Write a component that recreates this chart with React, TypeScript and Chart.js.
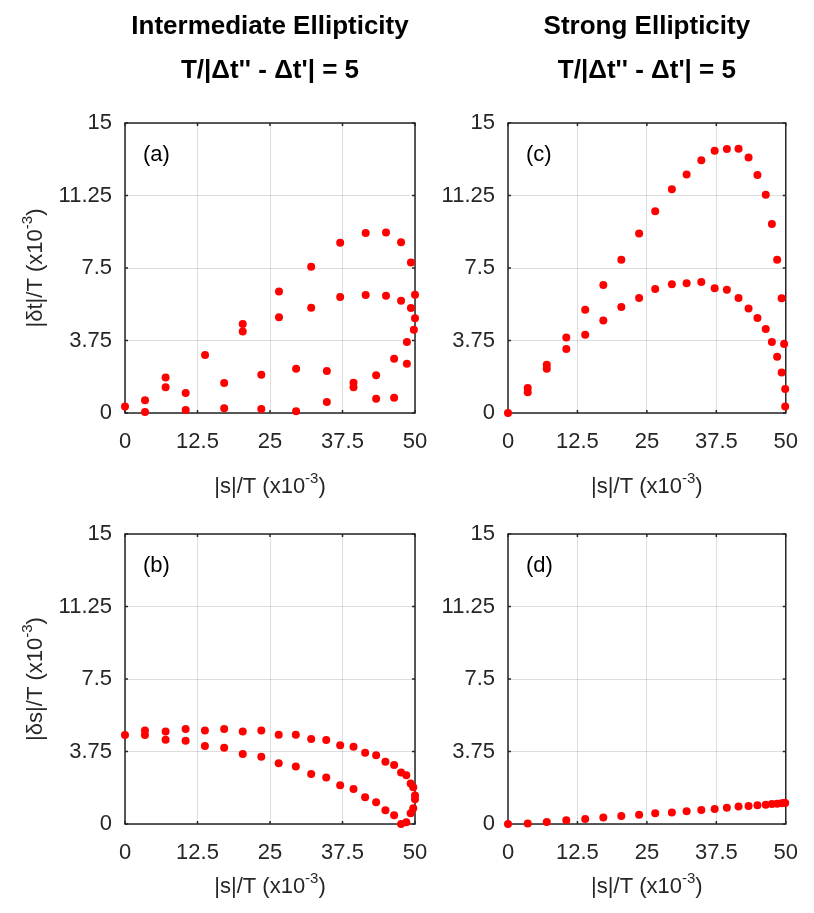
import React, { useEffect, useRef } from 'react';
import { Chart, registerables } from 'chart.js';
Chart.register(...registerables);

const W = 814;
const H = 913;
const FONT = "'Liberation Sans', Arial, Helvetica, sans-serif";
const TEXT = '#262626';

const xTicks = [0, 12.5, 25, 37.5, 50];
const yTicks = [0, 3.75, 7.5, 11.25, 15];

// Panel (a): intermediate ellipticity, |δt|/T
const aX = [0, 3.45, 3.45, 7.0, 7.0, 10.46, 10.46, 13.8, 17.1, 17.1, 20.3, 20.3, 23.5, 23.5, 26.55, 26.55, 29.5, 29.5, 32.1, 32.1, 34.8, 34.8, 37.1, 37.1, 39.4, 39.4, 41.5, 41.5, 43.3, 43.3, 45.0, 45.0, 46.4, 46.4, 47.6, 47.6, 48.6, 48.6, 49.3, 49.3, 49.8, 50, 50];
const aY = [0.34, 0.66, 0.05, 1.84, 1.33, 1.03, 0.16, 3.0, 1.55, 0.24, 4.6, 4.22, 1.98, 0.21, 6.28, 4.95, 2.29, 0.09, 7.57, 5.45, 2.17, 0.57, 8.81, 6.0, 1.57, 1.33, 9.31, 6.1, 1.95, 0.74, 9.34, 6.07, 2.81, 0.79, 8.83, 5.81, 3.67, 2.55, 7.78, 5.43, 4.31, 6.12, 4.9];

// Panel (b): intermediate ellipticity, |δs|/T
const bX = [0, 3.44, 3.44, 7.0, 7.0, 10.45, 10.45, 13.78, 13.78, 17.1, 17.1, 20.3, 20.3, 23.5, 23.5, 26.5, 26.5, 29.45, 29.45, 32.1, 32.1, 34.7, 34.7, 37.1, 37.1, 39.4, 39.4, 41.4, 41.4, 43.3, 43.3, 44.9, 44.9, 46.4, 46.4, 47.6, 47.6, 48.5, 48.5, 49.25, 49.25, 49.7, 49.7, 50, 50];
const bY = [4.6, 4.83, 4.6, 4.78, 4.36, 4.91, 4.31, 4.83, 4.03, 4.91, 3.95, 4.78, 3.62, 4.83, 3.48, 4.62, 3.14, 4.62, 2.97, 4.4, 2.59, 4.34, 2.41, 4.07, 2.0, 4.0, 1.81, 3.69, 1.38, 3.55, 1.12, 3.22, 0.71, 3.05, 0.45, 2.67, 0.0, 2.52, 0.09, 2.1, 0.55, 1.9, 0.81, 1.48, 1.28];

// Panel (c): strong ellipticity, |δt|/T
const cX = [0, 3.55, 3.55, 6.98, 6.98, 10.5, 10.5, 13.9, 13.9, 17.16, 17.16, 20.4, 20.4, 23.6, 23.6, 26.5, 26.5, 29.5, 29.5, 32.15, 32.15, 34.8, 34.8, 37.2, 37.2, 39.4, 39.4, 41.5, 41.5, 43.3, 43.3, 44.9, 44.9, 46.4, 46.4, 47.5, 47.5, 48.45, 48.45, 49.26, 49.26, 49.7, 49.9, 49.9];
const cY = [0, 1.29, 1.07, 2.5, 2.29, 3.9, 3.31, 5.34, 4.05, 6.62, 4.78, 7.93, 5.48, 9.28, 5.95, 10.43, 6.41, 11.57, 6.66, 12.33, 6.71, 13.07, 6.78, 13.57, 6.45, 13.66, 6.38, 13.67, 5.95, 13.22, 5.4, 12.31, 4.91, 11.29, 4.34, 9.78, 3.67, 7.93, 2.91, 5.93, 2.09, 3.57, 1.24, 0.34];

// Panel (d): strong ellipticity, |δs|/T
const dX = [0, 3.55, 6.98, 10.5, 13.9, 17.16, 20.4, 23.6, 26.5, 29.5, 32.15, 34.8, 37.2, 39.4, 41.5, 43.3, 44.9, 46.4, 47.5, 48.45, 49.26, 49.7, 49.9];
const dY = [0, 0.03, 0.1, 0.19, 0.26, 0.34, 0.41, 0.48, 0.55, 0.6, 0.66, 0.72, 0.78, 0.84, 0.9, 0.93, 0.97, 1.0, 1.03, 1.05, 1.07, 1.09, 1.09];

type Rect = { l: number; t: number; r: number; b: number };
type PanelDef = {
  key: string;
  label: string;
  xs: number[];
  ys: number[];
  rect: Rect;
  yTitle?: string;
  titles?: string[];
  xTitleBase: number;
};

const panels: PanelDef[] = [
  { key: 'a', label: '(a)', xs: aX, ys: aY, rect: { l: 125, t: 123, r: 415, b: 413 }, yTitle: '|\u03B4t|/T (x10', titles: ['Intermediate Ellipticity', "T/|\u0394t'' - \u0394t'| = 5"], xTitleBase: 493 },
  { key: 'c', label: '(c)', xs: cX, ys: cY, rect: { l: 508, t: 123, r: 798, b: 413 }, titles: ['Strong Ellipticity', "T/|\u0394t'' - \u0394t'| = 5"], xTitleBase: 493 },
  { key: 'b', label: '(b)', xs: bX, ys: bY, rect: { l: 125, t: 534, r: 415, b: 824 }, yTitle: '|\u03B4s|/T (x10', xTitleBase: 893 },
  { key: 'd', label: '(d)', xs: dX, ys: dY, rect: { l: 508, t: 534, r: 798, b: 824 }, xTitleBase: 893 },
];

function drawSupText(ctx: CanvasRenderingContext2D, main: string, sup: string, tail: string, cx: number, baseY: number) {
  ctx.textAlign = 'left';
  ctx.textBaseline = 'alphabetic';
  ctx.font = `22px ${FONT}`;
  const w1 = ctx.measureText(main).width;
  const w3 = ctx.measureText(tail).width;
  ctx.font = `15px ${FONT}`;
  const w2 = ctx.measureText(sup).width;
  const start = cx - (w1 + w2 + w3) / 2;
  ctx.font = `22px ${FONT}`;
  ctx.fillText(main, start, baseY);
  ctx.fillText(tail, start + w1 + w2, baseY);
  ctx.font = `15px ${FONT}`;
  ctx.fillText(sup, start + w1, baseY - 10);
}

function PanelChart({ p }: { p: PanelDef }) {
  const ref = useRef<HTMLCanvasElement | null>(null);
  useEffect(() => {
    if (!ref.current) return;
    const { l, t, r, b } = p.rect;
    const framePlugin = {
      id: 'frame' + p.key,
      beforeDatasetsDraw(chart: any) {
        const ctx = chart.ctx as CanvasRenderingContext2D;
        const xs = chart.scales.x;
        const ys = chart.scales.y;
        const ca = chart.chartArea;
        ctx.save();
        ctx.strokeStyle = TEXT;
        ctx.lineWidth = 1.5;
        ctx.strokeRect(ca.left, ca.top, ca.right - ca.left, ca.bottom - ca.top);
        const tl = 3;
        ctx.beginPath();
        for (const v of xTicks) {
          const px = xs.getPixelForValue(v);
          ctx.moveTo(px, ca.bottom);
          ctx.lineTo(px, ca.bottom - tl);
          ctx.moveTo(px, ca.top);
          ctx.lineTo(px, ca.top + tl);
        }
        for (const v of yTicks) {
          const py = ys.getPixelForValue(v);
          ctx.moveTo(ca.left, py);
          ctx.lineTo(ca.left + tl, py);
          ctx.moveTo(ca.right, py);
          ctx.lineTo(ca.right - tl, py);
        }
        ctx.stroke();
        ctx.restore();
      },
      afterDraw(chart: any) {
        const ctx = chart.ctx as CanvasRenderingContext2D;
        const ca = chart.chartArea;
        const cx = (ca.left + ca.right) / 2;
        const cy = (ca.top + ca.bottom) / 2;
        ctx.save();
        ctx.fillStyle = '#000';
        ctx.font = `22px ${FONT}`;
        ctx.textAlign = 'left';
        ctx.textBaseline = 'alphabetic';
        ctx.fillText(p.label, ca.left + 18, ca.top + 38);
        if (p.titles) {
          ctx.font = `bold 26px ${FONT}`;
          ctx.textAlign = 'center';
          ctx.fillText(p.titles[0], cx, 34);
          ctx.fillText(p.titles[1], cx, 78);
        }
        ctx.fillStyle = TEXT;
        drawSupText(ctx, '|s|/T (x10', '-3', ')', cx, p.xTitleBase);
        if (p.yTitle) {
          ctx.save();
          ctx.translate(42, cy);
          ctx.rotate(-Math.PI / 2);
          drawSupText(ctx, p.yTitle, '-3', ')', 0, 0);
          ctx.restore();
        }
        ctx.restore();
      },
    };

    const chart = new Chart(ref.current, {
      type: 'scatter',
      data: {
        datasets: [
          {
            data: p.xs.map((x, i) => ({ x, y: p.ys[i] })),
            backgroundColor: '#ff0000',
            borderColor: '#ff0000',
            borderWidth: 0,
            pointRadius: 4,
            pointHoverRadius: 4,
            clip: false as any,
          },
        ],
      },
      options: {
        responsive: false,
        animation: false,
        devicePixelRatio: 1,
        layout: { padding: { left: 0, top: t, right: W - r, bottom: 0 } },
        plugins: { legend: { display: false }, tooltip: { enabled: false } },
        events: [],
        scales: {
          x: {
            type: 'linear',
            min: 0,
            max: 50,
            afterBuildTicks: (s: any) => { s.ticks = xTicks.map((v) => ({ value: v })); },
            afterFit: (s: any) => { s.height = H - b; },
            ticks: {
              color: TEXT,
              font: { family: FONT, size: 22 },
              padding: 16,
              maxRotation: 0,
              autoSkip: false,
              callback: (v: any) => String(v),
            },
            grid: { color: 'rgba(0,0,0,0.13)', lineWidth: 1, drawTicks: false },
            border: { display: false },
          },
          y: {
            type: 'linear',
            min: 0,
            max: 15,
            afterBuildTicks: (s: any) => { s.ticks = yTicks.map((v) => ({ value: v })); },
            afterFit: (s: any) => { s.width = l; },
            ticks: {
              color: TEXT,
              font: { family: FONT, size: 22 },
              padding: 13,
              autoSkip: false,
              callback: (v: any) => String(v),
            },
            grid: { color: 'rgba(0,0,0,0.13)', lineWidth: 1, drawTicks: false },
            border: { display: false },
          },
        },
      } as any,
      plugins: [framePlugin],
    });
    return () => chart.destroy();
  }, [p]);
  return (
    <canvas
      ref={ref}
      width={W}
      height={H}
      style={{ position: 'absolute', left: 0, top: 0, width: W, height: H }}
    />
  );
}

export default function App() {
  return (
    <div style={{ position: 'absolute', left: 0, top: 0, width: W, height: H, background: '#fff', overflow: 'hidden' }}>
      {panels.map((p) => (
        <PanelChart key={p.key} p={p} />
      ))}
    </div>
  );
}
